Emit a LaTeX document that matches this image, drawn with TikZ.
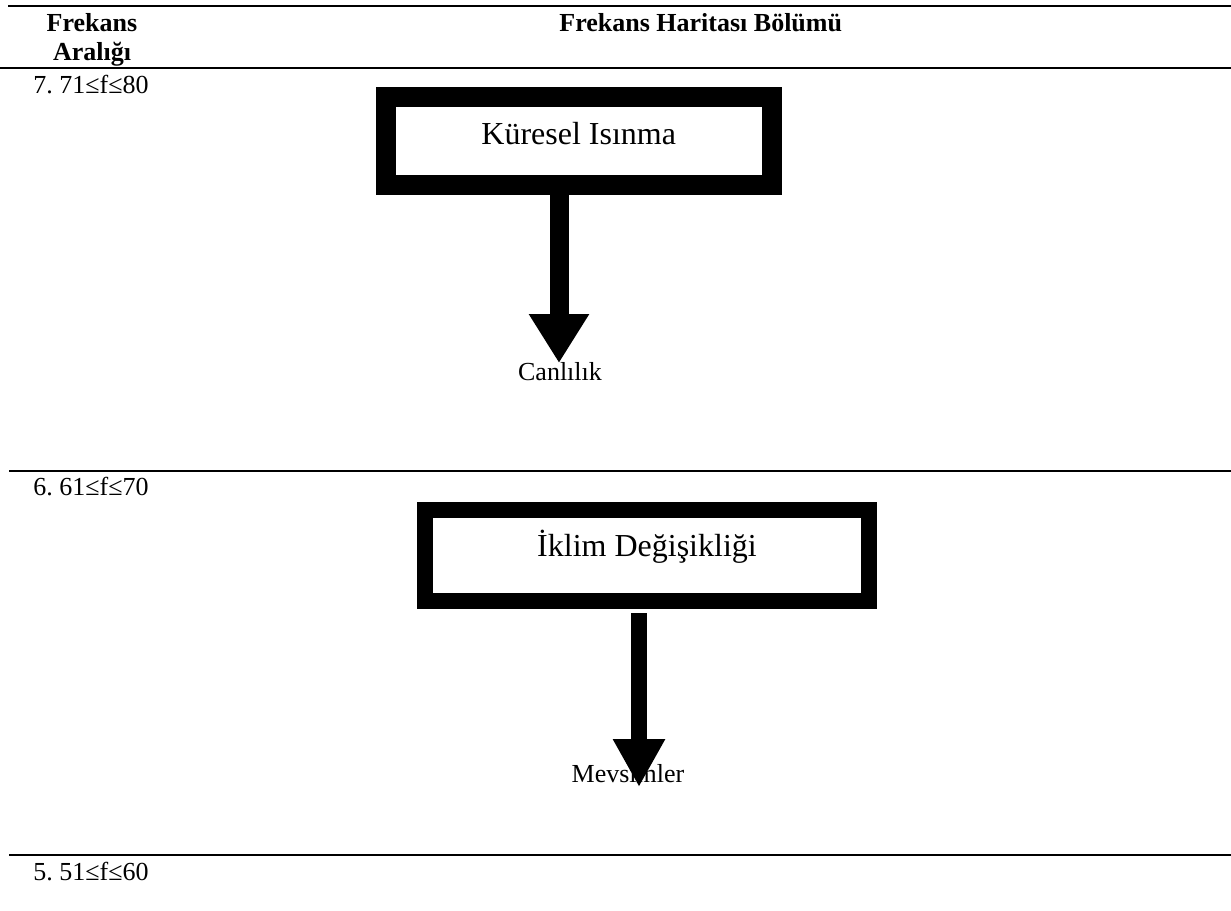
\documentclass[tikz,border=0pt]{standalone}
\usepackage{fontspec}
\setmainfont{Liberation Serif}
\usetikzlibrary{arrows.meta}
\frenchspacing
\begin{document}
\begin{tikzpicture}[x=0.5pt,y=-0.5pt,
  rule/.style={line width=1pt},
  lbl/.style={inner sep=0pt,font=\fontsize{13}{15}\selectfont},
  hdr/.style={inner sep=0pt,font=\fontsize{13}{15}\selectfont\bfseries},
  bigbox/.style={draw,inner sep=0pt,font=\fontsize{16}{19}\selectfont},
  thickarrow/.style={draw}
]
\path[use as bounding box] (0,0) rectangle (1231,910);
% table rules
\coordinate (r1a) at (8,5.7);   \coordinate (r1b) at (1231,5.7);
\coordinate (r2a) at (0,68);    \coordinate (r2b) at (1231,68);
\coordinate (r3a) at (9,470.5); \coordinate (r3b) at (1231,470.5);
\coordinate (r4a) at (9,854.5); \coordinate (r4b) at (1231,854.5);
\draw[rule] (r1a) -- (r1b);
\draw[rule] (r2a) -- (r2b);
\draw[rule] (r3a) -- (r3b);
\draw[rule] (r4a) -- (r4b);
% headers
\node[hdr,anchor=base] (h1) at (92,32) {Frekans};
\node[hdr,anchor=base] (h2) at (92,61) {Aralığı};
\node[hdr,anchor=base west] (h3) at (559,32) {Frekans Haritası Bölümü};
% row labels
\node[lbl,anchor=base west] (f7) at (33,93) {7. 71≤f≤80};
\node[lbl,anchor=base west] (f6) at (33,495) {6. 61≤f≤70};
\node[lbl,anchor=base west] (f5) at (33,880) {5. 51≤f≤60};
% boxes
\node[bigbox,line width=10pt,minimum width=192.75pt,minimum height=44pt,
      text height=12pt,text depth=9pt] (box1) at (578.75,141) {Küresel Isınma};
\node[bigbox,line width=8pt,minimum width=222pt,minimum height=45.5pt,
      text height=11pt,text depth=10pt] (box2) at (647,555.5) {İklim Değişikliği};
% sub labels
\node[lbl,anchor=base] (c1) at (560,380) {Canlılık};
\node[lbl,anchor=base] (c2) at (628,782) {Mevsimler};
% arrows
\coordinate (tip1) at (559,363);
\coordinate (tip2) at (639,787);
\draw[line width=9.5pt,-{Triangle[width=28.5pt,length=24.5pt]}] (box1.south -| tip1) -- (tip1);
\draw[line width=8pt,shorten <=2pt,-{Triangle[width=24.5pt,length=24pt]}] (box2.south -| tip2) -- (tip2);
\end{tikzpicture}
\end{document}
